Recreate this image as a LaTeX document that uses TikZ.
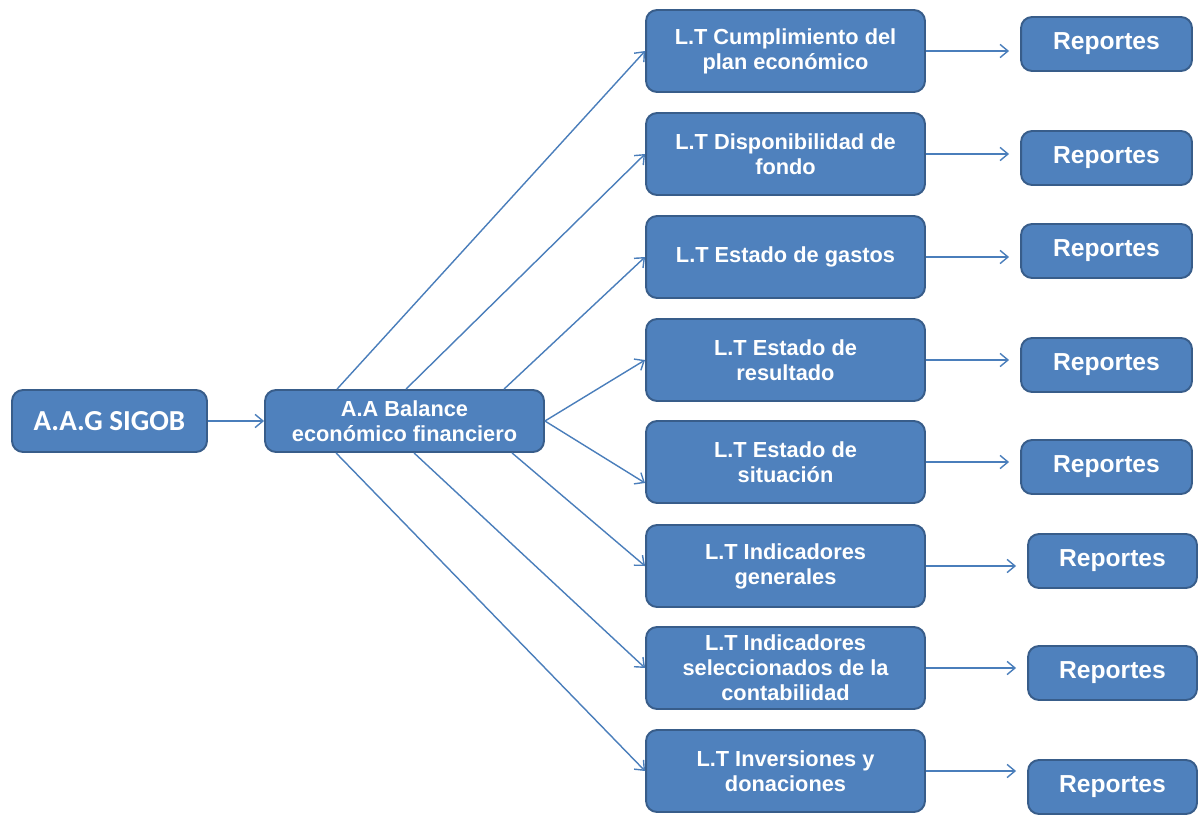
\documentclass[tikz,border=0pt]{standalone}
\usepackage{fontspec}
\setmainfont{Liberation Sans}
\newfontfamily\carlitofont{Carlito}
\usetikzlibrary{calc,positioning,arrows.meta}

\definecolor{boxblue}{HTML}{4F81BD}
\definecolor{boxedge}{HTML}{385D8A}
\definecolor{linkblue}{HTML}{4A7EBB}

\begin{document}
\begin{tikzpicture}[x=0.02cm, y=-0.02cm,
  caja/.style={draw=boxedge, line width=1.1pt, fill=boxblue, rounded corners=0.22cm,
    text=white, font=\bfseries\fontsize{12.4}{14.2}\selectfont, align=center, inner sep=0pt},
  lt/.style={caja, minimum width=5.58cm, minimum height=1.64cm},
  rep/.style={caja, minimum width=3.42cm, minimum height=1.08cm, font=\bfseries\fontsize{14}{16}\selectfont},
  conn/.style={draw=linkblue, line width=0.8pt, -{Straight Barb[length=4.5pt,width=7.5pt]}}]
\useasboundingbox (0,0) rectangle (1199,821);
%\draw[help lines, step=1cm] (0,0) grid (1199,821);

% left column
\node[caja, minimum width=3.9cm, minimum height=1.24cm, font=\carlitofont\bfseries\fontsize{16.5}{18}\selectfont] (sigob) at (109.5,421) {A.A.G SIGOB};
\node[caja, minimum width=5.58cm, minimum height=1.24cm] (bal) at (404.5,421) {A.A Balance\\econ\'omico financiero};

% middle column
\node[lt] (lt1) at (785.5,51) {L.T Cumplimiento del\\plan econ\'omico};
\node[lt] (lt2) at (785.5,154) {L.T Disponibilidad de\\fondo};
\node[lt] (lt3) at (785.5,257) {L.T Estado de gastos};
\node[lt] (lt4) at (785.5,360) {L.T Estado de\\resultado};
\node[lt] (lt5) at (785.5,462) {L.T Estado de\\situaci\'on};
\node[lt] (lt6) at (785.5,566) {L.T Indicadores\\generales};
\node[lt] (lt7) at (785.5,668) {L.T Indicadores\\seleccionados de la\\contabilidad};
\node[lt] (lt8) at (785.5,771) {L.T Inversiones y\\donaciones};

% right column
\node[rep] (rep1) at (1106.5,44) {Reportes};
\node[rep] (rep2) at (1106.5,158) {Reportes};
\node[rep] (rep3) at (1106.5,251) {Reportes};
\node[rep] (rep4) at (1106.5,365) {Reportes};
\node[rep] (rep5) at (1106.5,467) {Reportes};
\node[rep, minimum width=3.38cm] (rep6) at (1112.5,561) {Reportes};
\node[rep, minimum width=3.38cm] (rep7) at (1112.5,673) {Reportes};
\node[rep, minimum width=3.38cm] (rep8) at (1112.5,787) {Reportes};

\draw[conn] (sigob) -- (bal);

\draw[conn] ($(bal.north west)+(73,0)$) -- (lt1.west);
\draw[conn] ($(bal.north west)+(142,0)$) -- (lt2.west);
\draw[conn] ($(bal.north west)+(240,0)$) -- (lt3.west);
\draw[conn] (bal.east) -- (lt4.west);
\draw[conn] (bal.east) -- ($(lt5.west)+(0,21)$);
\draw[conn] ($(bal.south west)+(248,0)$) -- (lt6.west);
\draw[conn] ($(bal.south west)+(150,0)$) -- (lt7.west);
\draw[conn] ($(bal.south west)+(72,0)$) -- (lt8.west);

\foreach \i in {1,...,8}
  \draw[conn, shorten >=0.22cm] (lt\i.east) -- (lt\i.east -| rep\i.west);

\end{tikzpicture}
\end{document}
